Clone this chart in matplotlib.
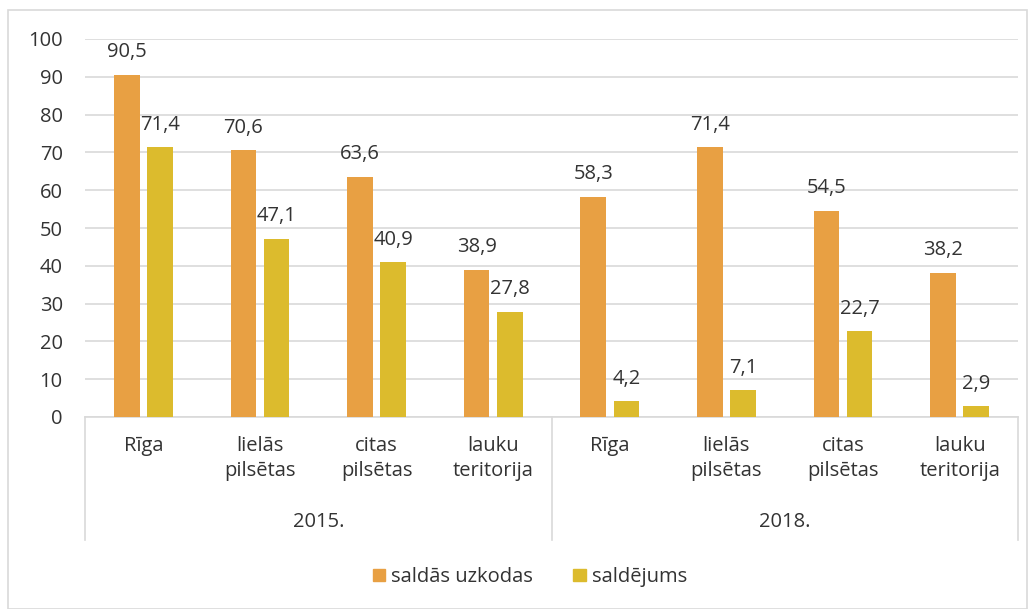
import matplotlib.pyplot as plt
import numpy as np
from matplotlib.patches import Rectangle
from matplotlib.lines import Line2D

plt.rcParams['font.family'] = ['Open Sans', 'DejaVu Sans']

years = ['2015.', '2018.']
places = ['Rīga', 'lielās\npilsētas', 'citas\npilsētas', 'lauku\nteritorija']
saldas_uzkodas = [90.5, 70.6, 63.6, 38.9, 58.3, 71.4, 54.5, 38.2]
saldejums = [71.4, 47.1, 40.9, 27.8, 4.2, 7.1, 22.7, 2.9]
series_names = ['saldās uzkodas', 'saldējums']
colors = ['#E8A043', '#DCBB2D']

W, H = 1035, 609
fs = 14.5
txt = '#333333'
fig = plt.figure(figsize=(W / 100, H / 100), dpi=100)

# outer chart border
fig.patches.append(Rectangle((8 / W, 0), (1027 - 8) / W, 1 - 10 / H,
                             transform=fig.transFigure, fill=False,
                             edgecolor='#D9D9D9', linewidth=1.2))

left, right = 85 / W, 1018 / W
bottom, top = 1 - 417 / H, 1 - 39 / H
ax = fig.add_axes([left, bottom, right - left, top - bottom])

x = np.arange(len(saldas_uzkodas))
bw = 0.22
off = 0.142
b1 = ax.bar(x - off, saldas_uzkodas, bw, color=colors[0], zorder=3)
b2 = ax.bar(x + off, saldejums, bw, color=colors[1], zorder=3)

for bars in (b1, b2):
    for bar in bars:
        v = bar.get_height()
        ax.annotate(f'{v:.1f}'.replace('.', ','),
                    (bar.get_x() + bar.get_width() / 2, v),
                    xytext=(0, 9), textcoords='offset points',
                    ha='center', va='bottom', fontsize=fs, color=txt)

ax.set_xlim(-0.5, len(x) - 0.5)
ax.set_ylim(0, 100)
ax.set_yticks(range(0, 101, 10))
ax.tick_params(axis='y', length=0, labelsize=fs, labelcolor=txt, pad=16)
ax.set_xticks([])
ax.grid(axis='y', color='#D9D9D9', linewidth=1.2, zorder=0)
for s in ['top', 'right', 'left']:
    ax.spines[s].set_visible(False)
ax.spines['bottom'].set_color('#D9D9D9')
ax.spines['bottom'].set_linewidth(1.2)

# two-level category axis
trans = ax.get_xaxis_transform()
axis_h = ax.get_position().height
def fy(py):
    # figure pixel row -> axes y fraction
    return ((1 - py / H) - bottom) / axis_h

for xs in [-0.5, 3.5, 7.5]:
    ax.add_line(Line2D([xs, xs], [0, fy(540)], transform=trans,
                       color='#D9D9D9', linewidth=1.2, clip_on=False))

labels = places * len(years)
for i, lab in enumerate(labels):
    ax.text(i, fy(436), lab, transform=trans, ha='center', va='top',
            fontsize=fs, color=txt, linespacing=1.35)
for j, yr in enumerate(years):
    ax.text(j * 4 + 1.5, fy(522), yr, transform=trans, ha='center',
            va='center', fontsize=fs, color=txt)

handles = [Rectangle((0, 0), 1, 1, color=c) for c in colors]
fig.legend(handles, series_names, loc='center', bbox_to_anchor=(530 / W, 1 - 577 / H),
           ncol=2, frameon=False, fontsize=fs, handlelength=0.6, handleheight=0.6,
           handletextpad=0.3, columnspacing=2.0, labelcolor=txt)

fig.savefig('out.png', dpi=100)
